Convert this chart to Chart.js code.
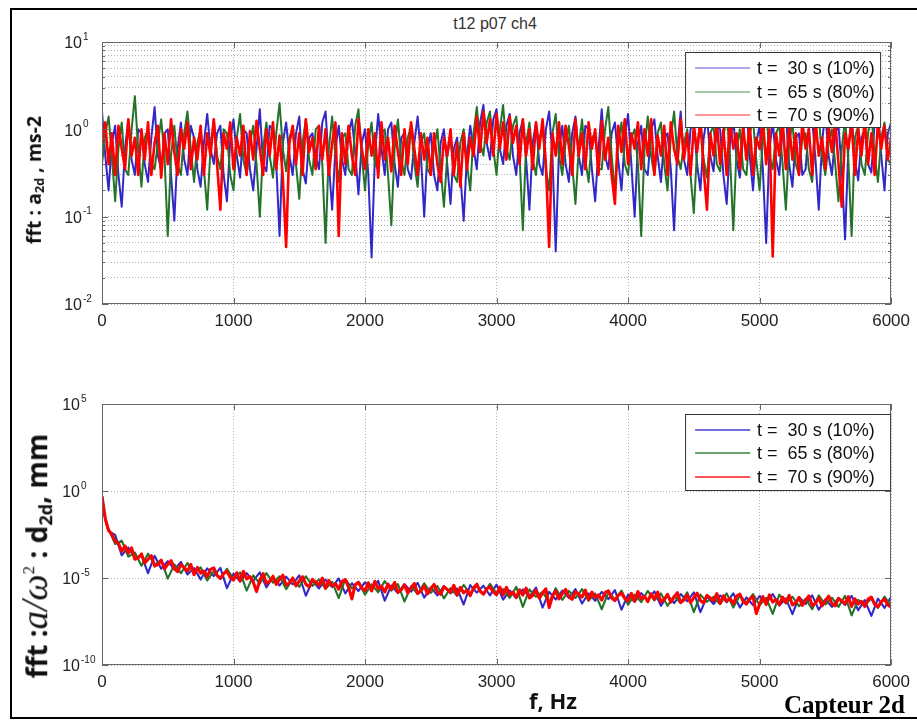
<!DOCTYPE html>
<html>
<head>
<meta charset="utf-8">
<script src="https://cdn.jsdelivr.net/npm/chart.js@4.4.1/dist/chart.umd.min.js"></script>
<style>
  html, body { margin:0; padding:0; background:#fff; }
  body { width:917px; height:720px; position:relative; overflow:hidden; font-family:'Liberation Sans', Arial, sans-serif; }
  #frame { position:absolute; left:10px; top:8px; width:920px; height:711px; box-sizing:border-box; border:2px solid #000; }
  canvas { position:absolute; left:0; display:block; }
  #cTop { top:0; }
  #cBot { top:360px; }
  #title { position:absolute; left:495px; top:24px; transform:translate(-50%,-50%); font-size:16px; color:#333; white-space:nowrap; }
  .ylab { position:absolute; white-space:nowrap; transform:translate(-50%,-50%) rotate(-90deg); font-family:'Open Sans', sans-serif; font-weight:bold; color:#111; }
  .ylab sub { font-size:65%; vertical-align:-0.25em; }
  #ylabTop { left:34px; top:180px; font-size:19.5px; }
  #ylabBot { left:35px; top:556px; font-size:28px; }
  #ylabBot .m { font-family:'Liberation Serif', serif; font-style:italic; font-weight:normal; font-size:37px; }
  #ylabBot sup { font-size:60%; vertical-align:0.75em; font-family:'Liberation Serif', serif; font-weight:normal; }
  #xlab { position:absolute; left:553px; top:700px; transform:translate(-50%,-50%); font-family:'Open Sans', sans-serif; font-weight:bold; font-size:22px; color:#111; white-space:nowrap; }
  #capteur { position:absolute; right:12px; top:692px; font-family:'Liberation Serif', serif; font-weight:bold; font-size:25px; line-height:25px; color:#000; white-space:nowrap; }
</style>
</head>
<body>
<div id="frame"></div>
<div id="title">t12 p07 ch4</div>
<canvas id="cTop" width="917" height="345"></canvas>
<canvas id="cBot" width="917" height="345"></canvas>
<div class="ylab" id="ylabTop">fft : a<sub>2d</sub> , ms-2</div>
<div class="ylab" id="ylabBot">fft :<span class="m">a/ω</span><sup>2</sup> : d<sub>2d</sub>, mm</div>
<div id="xlab">f, Hz</div>
<div id="capteur">Capteur 2d</div>
<script>
// ---- data ----
const seriesLabels = ['t =  30 s (10%)', 't =  65 s (80%)', 't =  70 s (90%)'];

// frequency bins, Hz (25 Hz step)
const freqFine = [0,25,50,75,100,125,150,175,200,225,250,275,300,325,350,375,400,425,450,475,
  500,525,550,575,600,625,650,675,700,725,750,775,800,825,850,875,900,925,950,975,
  1000,1025,1050,1075,1100,1125,1150,1175,1200,1225,1250,1275,1300,1325,1350,1375,1400,1425,1450,1475,
  1500,1525,1550,1575,1600,1625,1650,1675,1700,1725,1750,1775,1800,1825,1850,1875,1900,1925,1950,1975,
  2000,2025,2050,2075,2100,2125,2150,2175,2200,2225,2250,2275,2300,2325,2350,2375,2400,2425,2450,2475,
  2500,2525,2550,2575,2600,2625,2650,2675,2700,2725,2750,2775,2800,2825,2850,2875,2900,2925,2950,2975,
  3000,3025,3050,3075,3100,3125,3150,3175,3200,3225,3250,3275,3300,3325,3350,3375,3400,3425,3450,3475,
  3500,3525,3550,3575,3600,3625,3650,3675,3700,3725,3750,3775,3800,3825,3850,3875,3900,3925,3950,3975,
  4000,4025,4050,4075,4100,4125,4150,4175,4200,4225,4250,4275,4300,4325,4350,4375,4400,4425,4450,4475,
  4500,4525,4550,4575,4600,4625,4650,4675,4700,4725,4750,4775,4800,4825,4850,4875,4900,4925,4950,4975,
  5000,5025,5050,5075,5100,5125,5150,5175,5200,5225,5250,5275,5300,5325,5350,5375,5400,5425,5450,5475,
  5500,5525,5550,5575,5600,5625,5650,5675,5700,5725,5750,5775,5800,5825,5850,5875,5900,5925,5950,5975,6000];

// acceleration spectrum a2d, m/s2 (top plot)
const accT30 = [1.6,0.5,0.2,0.7,1.1,0.3,0.13,0.6,1.3,0.45,
  0.3,1.0,0.9,0.4,0.25,0.8,1.8,0.5,0.35,0.9,
  1.0,0.3,0.09,0.6,1.2,0.45,0.3,1.1,0.8,0.35,
  0.22,0.7,1.5,0.6,0.4,0.9,1.1,0.3,0.15,0.75,
  1.3,0.5,0.28,1.0,0.9,0.35,0.2,0.6,1.7,0.4,
  0.33,1.1,1.0,0.4,0.06,0.7,1.2,0.5,0.3,0.9,
  1.4,0.35,0.24,0.8,0.9,0.5,0.35,1.2,1.6,0.4,
  0.12,0.6,1.1,0.45,0.3,0.9,1.3,0.55,0.18,0.7,
  1.0,0.3,0.034,0.5,1.5,0.6,0.3,1.0,1.2,0.4,
  0.22,0.8,0.9,0.35,0.27,0.7,1.4,0.5,0.1,0.6,
  0.9,0.3,0.2,0.7,1.0,0.4,0.14,0.6,0.8,0.3,
  0.09,0.5,1.1,0.6,0.35,1.2,1.9,0.7,0.45,1.3,
  1.7,0.6,0.4,1.1,1.5,0.5,0.3,0.9,1.3,0.45,
  0.12,0.7,1.2,0.4,0.3,1.0,1.6,0.5,0.04,0.6,
  1.1,0.4,0.25,0.9,1.4,0.5,0.3,1.1,1.0,0.35,
  0.15,0.6,1.7,0.5,0.35,0.9,1.2,0.45,0.2,0.8,
  1.5,0.4,0.1,0.7,1.1,0.35,0.3,1.0,1.3,0.5,
  0.25,0.8,0.9,0.35,0.07,0.6,1.6,0.45,0.3,1.0,
  1.2,0.4,0.2,0.8,1.4,0.5,0.33,1.1,1.0,0.3,
  0.14,0.7,1.3,0.45,0.28,0.9,1.8,0.5,0.2,0.7,
  1.1,0.35,0.05,0.6,1.2,0.45,0.3,1.0,1.5,0.4,
  0.22,0.8,0.9,0.3,0.35,1.1,1.3,0.45,0.12,0.7,
  1.6,0.5,0.3,0.9,1.1,0.35,0.055,0.6,1.4,0.45,
  0.26,0.8,1.0,0.4,0.32,1.2,1.7,0.5,0.2,0.9,1.2];
const accT65 = [0.4,0.9,1.4,0.5,0.15,0.6,1.2,0.35,0.3,1.0,
  2.4,0.6,0.22,0.8,1.0,0.4,0.35,0.7,1.3,0.5,
  0.06,0.5,1.1,0.4,0.3,0.9,1.6,0.6,0.25,0.7,
  1.0,0.35,0.12,0.6,1.3,0.5,0.35,1.0,0.9,0.3,
  0.2,0.8,1.5,0.45,0.3,0.7,1.1,0.4,0.1,0.6,
  1.2,0.5,0.28,0.9,2.0,0.6,0.33,0.8,1.0,0.4,
  0.16,0.7,1.3,0.45,0.3,1.0,1.1,0.4,0.05,0.6,
  1.4,0.5,0.25,0.8,0.9,0.35,0.3,1.1,1.7,0.5,
  0.2,0.7,1.2,0.4,0.35,0.9,1.0,0.3,0.08,0.6,
  1.3,0.45,0.3,0.8,1.1,0.4,0.22,0.7,0.9,0.35,
  0.3,0.6,1.0,0.35,0.13,0.5,0.8,0.3,0.25,0.7,
  1.0,0.4,0.2,0.9,1.8,0.7,0.5,1.2,1.6,0.6,
  0.3,1.0,1.9,0.6,0.45,1.1,1.4,0.5,0.07,0.7,
  1.2,0.45,0.3,0.8,1.0,0.35,0.2,0.9,1.5,0.5,
  0.3,0.7,1.1,0.4,0.14,0.6,1.3,0.45,0.25,0.8,
  0.9,0.35,0.35,1.0,1.8,0.5,0.2,0.7,1.2,0.4,
  0.3,0.8,1.0,0.4,0.06,0.6,1.4,0.5,0.3,0.9,
  1.2,0.4,0.2,0.8,1.6,0.5,0.35,0.7,1.0,0.3,
  0.11,0.6,1.3,0.45,0.28,0.9,1.1,0.4,0.33,0.8,
  1.5,0.5,0.07,0.6,1.0,0.35,0.3,0.9,1.3,0.45,
  0.2,0.8,1.7,0.5,0.35,0.9,1.1,0.4,0.12,0.7,
  1.2,0.4,0.3,0.8,0.9,0.35,0.25,1.0,1.4,0.5,
  0.3,0.7,1.0,0.4,0.15,0.6,1.3,0.45,0.06,0.8,
  1.1,0.4,0.3,0.9,1.5,0.5,0.25,0.8,1.2,0.45,0.4];
const accT70 = [0.7,1.2,0.4,0.9,0.3,1.1,0.6,0.35,1.3,0.5,
  0.8,0.3,1.0,0.45,1.2,0.3,0.7,1.1,0.28,0.9,
  0.4,1.3,0.55,0.3,1.0,0.6,1.2,0.35,0.8,0.45,
  1.1,0.3,0.9,0.5,1.3,0.4,0.12,0.9,0.6,1.2,
  0.35,0.8,0.5,1.1,0.3,0.95,0.45,1.25,0.6,0.3,
  1.0,0.5,1.2,0.35,0.85,0.28,0.045,0.7,1.1,0.4,
  0.9,0.3,1.3,0.55,0.8,0.35,1.1,0.45,1.0,0.3,
  0.7,1.2,0.06,0.9,0.4,1.1,0.5,0.3,1.3,0.6,
  0.35,1.0,0.5,0.9,0.28,1.2,0.45,0.8,0.33,1.1,
  0.55,0.3,1.0,0.4,1.2,0.6,0.3,0.9,0.45,0.8,
  0.3,0.9,0.4,0.25,0.8,0.5,1.0,0.3,0.7,0.22,
  0.9,0.35,0.8,0.5,1.4,0.55,1.6,0.7,1.3,0.5,
  1.5,0.6,1.2,0.45,1.4,0.7,1.1,0.4,1.3,0.5,
  1.0,0.35,1.2,0.6,1.3,0.4,0.045,0.9,0.5,1.2,
  0.4,1.1,0.65,0.3,1.3,0.5,0.9,0.35,1.2,0.6,
  1.0,0.3,1.25,0.45,0.8,0.3,0.14,1.1,0.55,1.3,
  0.4,0.9,0.6,1.2,0.35,1.0,0.5,1.3,0.3,0.85,
  0.5,1.1,0.3,1.2,0.6,0.4,1.3,0.45,0.9,0.3,
  1.1,0.55,1.25,0.35,0.12,0.9,0.5,1.2,0.4,1.0,
  0.3,1.3,0.6,0.9,0.35,1.1,0.45,1.2,0.3,0.8,
  0.6,1.25,0.4,1.0,0.035,0.9,0.5,1.3,0.35,1.1,
  0.45,0.9,0.3,1.2,0.6,1.0,0.3,1.3,0.5,0.8,
  0.35,1.1,0.55,1.25,0.4,0.13,0.9,0.6,1.2,0.3,
  1.0,0.5,1.3,0.4,0.9,0.3,1.2,0.6,1.1,0.45,0.8];

// frequency bins, Hz (bottom plot, t = 30 s and t = 65 s, finer near 0)
const freqBot = [0,10,20,30,40,50,100,150,200,250,300,350,400,450,500,550,600,650,700,750,800,850,900,950,
  1000,1050,1100,1150,1200,1250,1300,1350,1400,1450,1500,1550,1600,1650,1700,1750,1800,1850,1900,1950,
  2000,2050,2100,2150,2200,2250,2300,2350,2400,2450,2500,2550,2600,2650,2700,2750,2800,2850,2900,2950,
  3000,3050,3100,3150,3200,3250,3300,3350,3400,3450,3500,3550,3600,3650,3700,3750,3800,3850,3900,3950,
  4000,4050,4100,4150,4200,4250,4300,4350,4400,4450,4500,4550,4600,4650,4700,4750,4800,4850,4900,4950,
  5000,5050,5100,5150,5200,5250,5300,5350,5400,5450,5500,5550,5600,5650,5700,5750,5800,5850,5900,5950,6000];

// displacement spectrum d2d = a/w2, mm (bottom plot)
const dispT30 = [0.45,0.13,0.035,0.016,0.008,
  5.0e-3,3.0e-3,2.0e-4,5.7e-4,1.4e-4,2.0e-4,1.9e-5,1.9e-4,3.4e-5,9.2e-5,
  3.0e-5,8.4e-5,1.6e-5,3.7e-5,8.1e-6,3.6e-5,1.3e-5,3.8e-5,2.6e-6,1.8e-5,
  6.2e-6,1.9e-5,6.9e-6,2.1e-5,2.9e-6,1.1e-5,3.7e-6,1.2e-5,4.3e-6,1.4e-5,
  9.5e-7,7.1e-6,2.5e-6,8.0e-6,3.0e-6,9.4e-6,1.3e-6,5.0e-6,1.8e-6,5.7e-6,
  2.2e-6,6.8e-6,5.0e-7,3.7e-6,1.35e-6,4.4e-6,1.65e-6,5.2e-6,7.5e-7,2.9e-6,
  1.0e-6,3.4e-6,1.3e-6,2.5e-6,3.0e-7,3.9e-6,1.44e-6,3.6e-6,1.0e-6,4.2e-6,
  5.7e-7,1.9e-6,6.9e-7,2.2e-6,8.6e-7,2.8e-6,2.0e-7,1.6e-6,5.8e-7,1.9e-6,
  7.2e-7,2.3e-6,3.4e-7,1.3e-6,4.9e-7,1.6e-6,6.1e-7,2.0e-6,1.5e-7,1.1e-6,
  4.2e-7,1.35e-6,5.3e-7,1.7e-6,2.5e-7,9.8e-7,3.6e-7,1.2e-6,4.6e-7,1.5e-6,
  1.1e-7,8.6e-7,3.2e-7,1.0e-6,4.0e-7,1.3e-6,2.0e-7,7.6e-7,2.8e-7,9.2e-7,
  3.6e-7,1.2e-6,2.6e-7,6.7e-7,8.3e-8,8.1e-7,3.2e-7,1.0e-6,1.5e-7,6.0e-7,
  2.2e-7,7.2e-7,2.8e-7,9.4e-7,1.4e-7,5.4e-7,6.6e-8,6.5e-7,1.9e-7,8.4e-7];
const dispT65 = [0.55,0.15,0.04,0.018,0.010,
  6.5e-3,9.0e-4,1.4e-3,1.7e-4,2.9e-4,5.1e-5,2.5e-4,5.7e-5,1.1e-4,9.2e-6,
  6.0e-5,1.9e-5,7.2e-5,1.9e-5,4.1e-5,7.2e-6,2.5e-5,8.6e-6,3.4e-5,9.0e-6,
  2.1e-5,1.9e-6,1.4e-5,4.8e-6,1.9e-5,5.4e-6,1.25e-5,2.3e-6,8.6e-6,3.1e-6,
  1.26e-5,3.5e-6,8.4e-6,2.4e-6,6.0e-6,7.1e-7,8.8e-6,2.5e-6,6.0e-6,1.1e-6,
  4.3e-6,1.5e-6,6.6e-6,1.9e-6,4.5e-6,4.4e-7,3.3e-6,1.2e-6,5.0e-6,1.4e-6,
  3.5e-6,6.8e-7,2.6e-6,9.5e-7,4.0e-6,1.2e-6,3.6e-6,1.1e-6,4.6e-6,1.3e-6,
  2.3e-6,7.1e-7,3.1e-6,2.2e-7,2.2e-6,8.4e-7,1.6e-6,3.9e-7,2.6e-6,5.6e-7,
  1.8e-6,7.0e-7,2.3e-6,5.0e-7,1.3e-6,1.6e-7,1.5e-6,6.0e-7,1.9e-6,2.9e-7,
  1.1e-6,4.1e-7,1.8e-6,5.2e-7,1.3e-6,2.5e-7,9.6e-7,3.6e-7,1.5e-6,1.1e-7,
  1.1e-6,4.3e-7,8.4e-7,3.1e-7,1.3e-6,2.0e-7,9.8e-7,3.8e-7,1.2e-6,2.7e-7,
  7.2e-7,8.7e-8,1.1e-6,3.4e-7,8.3e-7,2.4e-7,6.4e-7,1.6e-7,1.0e-6,3.0e-7,
  7.4e-7,2.2e-7,9.4e-7,7.1e-8,5.5e-7,2.7e-7,6.6e-7,1.9e-7,8.6e-7,2.5e-7];
const dispT70 = [0.5,0.026,5.5e-3,3.2e-3,1.3e-3,9.7e-4,3.4e-4,6.9e-4,2.7e-4,5.4e-4,1.2e-4,
  1.4e-4,2.4e-4,7.2e-5,1.2e-4,1.9e-4,4.8e-5,5.9e-5,1.05e-4,3.4e-5,6.1e-5,
  9.9e-5,3.5e-5,2.3e-5,5.9e-5,3.9e-5,2.5e-5,6.0e-5,1.55e-5,4.0e-5,1.9e-5,
  2.5e-5,1.2e-5,3.1e-5,3.8e-5,1.4e-5,9.4e-6,1.8e-5,2.4e-5,1.1e-5,7.6e-6,
  2.0e-5,6.9e-6,2.4e-5,8.8e-6,1.2e-5,5.8e-6,1.65e-6,7.4e-6,1.8e-5,4.9e-6,
  6.5e-6,1.26e-5,4.3e-6,8.3e-6,1.45e-5,3.9e-6,5.2e-6,1.0e-5,3.5e-6,6.8e-6,
  1.18e-5,4.4e-6,3.1e-6,8.3e-6,5.8e-6,3.9e-6,9.8e-6,2.6e-6,7.2e-6,3.5e-6,
  4.8e-6,2.3e-6,6.4e-6,8.0e-6,3.0e-6,6.3e-7,4.1e-6,5.6e-6,2.7e-6,1.9e-6,
  5.2e-6,1.8e-6,6.4e-6,2.4e-6,3.4e-6,1.6e-6,4.5e-6,2.2e-6,5.5e-6,1.5e-6,
  2.1e-6,4.0e-6,1.4e-6,2.75e-6,4.8e-6,1.3e-6,1.8e-6,3.5e-6,1.24e-6,2.4e-6,
  4.3e-6,1.6e-6,1.15e-6,3.2e-6,2.2e-6,1.5e-6,3.8e-6,1.04e-6,2.9e-6,1.4e-6,
  2.0e-6,9.7e-7,2.7e-6,4.4e-6,1.7e-6,1.2e-6,2.3e-6,3.2e-6,1.55e-6,1.1e-6,
  3.0e-6,1.05e-6,2.9e-6,1.1e-6,1.56e-6,7.7e-7,2.1e-6,1.04e-6,2.6e-6,7.2e-7,
  9.9e-7,1.95e-6,6.9e-7,1.35e-6,2.4e-6,2.0e-7,9.0e-7,1.8e-6,6.3e-7,1.24e-6,
  2.2e-6,8.4e-7,6.0e-7,1.6e-6,1.16e-6,8.0e-7,2.0e-6,5.6e-7,1.54e-6,7.6e-7,
  1.07e-6,5.3e-7,1.46e-6,1.85e-6,7.1e-7,5.0e-7,9.9e-7,1.36e-6,6.7e-7,4.8e-7,
  1.3e-6,4.7e-7,1.66e-6,6.3e-7,8.9e-7,4.4e-7,1.22e-6,6.0e-7,1.53e-6,4.2e-7,
  5.8e-7,1.15e-6,4.1e-7,8.0e-7,1.42e-6,3.9e-7,5.5e-7,1.08e-6,3.8e-7,7.5e-7,
  1.33e-6,5.1e-7,3.7e-7,1.0e-6,7.1e-7,4.9e-7,1.26e-6,3.5e-7,9.5e-7,4.7e-7,
  6.7e-7,3.3e-7,9.1e-7,1.17e-6,4.5e-7,3.2e-7,6.3e-7,8.7e-7,9.2e-8,3.1e-7,
  8.4e-7,3.0e-7,1.06e-6,4.1e-7,5.8e-7,2.9e-7,8.0e-7,3.9e-7,9.9e-7,2.8e-7,
  3.8e-7,7.6e-7,2.7e-7,5.3e-7,9.4e-7,2.6e-7,3.6e-7,7.1e-7,2.5e-7,5.0e-7,
  9.0e-7,3.4e-7,2.5e-7,6.7e-7,4.8e-7,3.3e-7,8.5e-7,2.3e-7,6.4e-7,3.2e-7,
  4.5e-7,2.3e-7,6.2e-7,7.9e-7,3.1e-7,2.2e-7,4.3e-7,6.0e-7,2.9e-7,2.1e-7];

// axis ticks
const xTicks = [0,1000,2000,3000,4000,5000,6000];
const yTicksTop = [0.01,0.02,0.03,0.04,0.05,0.06,0.07,0.08,0.09,0.1,0.2,0.3,0.4,0.5,0.6,0.7,0.8,0.9,
  1,2,3,4,5,6,7,8,9,10];
const yTicksBot = [1e-10,1e-5,1,1e5];

const colors = ['rgb(50,40,200)', 'rgb(35,115,40)', 'rgb(255,0,0)'];

function pts(xs, ys) { return xs.map((f, i) => ({ x: f, y: ys[i] })); }

function datasets(xsList, lists, widths) {
  return lists.map((ys, k) => ({
    label: seriesLabels[k], data: pts(xsList[k], ys),
    borderColor: colors[k], borderWidth: widths[k],
    order: 2 - k,                       // last series (red) painted on top
    pointRadius: 0, tension: 0, borderJoinStyle: 'round', fill: false
  }));
}

const isDecade = v => Math.abs(Math.log10(v) - Math.round(Math.log10(v))) < 1e-6;

// box, inward ticks, MATLAB-like decade labels, legend
function decor(opts) {
  return {
    id: 'decor_' + opts.name,
    afterDatasetsDraw(chart) {
      const { ctx, chartArea: a, scales: { x, y } } = chart;
      ctx.save();
      ctx.strokeStyle = '#666';
      ctx.lineWidth = 1;
      ctx.beginPath();
      xTicks.forEach(v => {
        const px = Math.round(x.getPixelForValue(v)) + 0.5;
        ctx.moveTo(px, a.bottom); ctx.lineTo(px, a.bottom - 6);
        ctx.moveTo(px, a.top); ctx.lineTo(px, a.top + 6);
      });
      y.ticks.forEach(t => {
        const py = Math.round(y.getPixelForValue(t.value)) + 0.5;
        const len = isDecade(t.value) ? 6 : 3;
        ctx.moveTo(a.left, py); ctx.lineTo(a.left + len, py);
        ctx.moveTo(a.right, py); ctx.lineTo(a.right - len, py);
      });
      ctx.stroke();
      ctx.strokeRect(Math.round(a.left) + 0.5, Math.round(a.top) + 0.5, Math.round(a.width) - 1, Math.round(a.height) - 1);

      // legend
      const L = opts.legend;
      const bx = a.right - L.fromRight - L.w, by = a.top + L.top;
      ctx.fillStyle = '#fff';
      ctx.fillRect(bx, by, L.w, L.h);
      ctx.strokeStyle = '#333';
      ctx.strokeRect(bx + 0.5, by + 0.5, L.w - 1, L.h - 1);
      ctx.font = '18px "Liberation Sans", Arial, sans-serif';
      ctx.textBaseline = 'middle';
      ctx.textAlign = 'left';
      chart.data.datasets.forEach((ds, k) => {
        const ry = by + L.rows[k];
        ctx.strokeStyle = ds.borderColor;
        ctx.globalAlpha = L.alpha;
        ctx.lineWidth = 1.5;
        ctx.beginPath();
        ctx.moveTo(bx + 10, ry); ctx.lineTo(bx + 65, ry);
        ctx.stroke();
        ctx.globalAlpha = 1;
        ctx.fillStyle = '#111';
        ctx.fillText(ds.label, bx + 72, ry + 1);
      });
      ctx.restore();
    },
    afterDraw(chart) {
      const { ctx, scales: { y } } = chart;
      ctx.save();
      ctx.fillStyle = '#222';
      ctx.textBaseline = 'middle';
      opts.decades.forEach(v => {
        const py = y.getPixelForValue(v);
        const e = String(Math.round(Math.log10(v)));
        ctx.font = '16px "Liberation Sans", Arial, sans-serif';
        ctx.textAlign = 'right';
        ctx.fillText('10', opts.labelRight, py + 2);
        ctx.font = '10px "Liberation Sans", Arial, sans-serif';
        ctx.textAlign = 'left';
        ctx.fillText(e, opts.labelRight + 1, py - 5);
      });
      ctx.restore();
    }
  };
}

function makeChart(id, xsList, lists, widths, yMin, yMax, yTicks, xAxisH, padTop, plug) {
  return new Chart(document.getElementById(id).getContext('2d'), {
    type: 'line',
    data: { datasets: datasets(xsList, lists, widths) },
    options: {
      responsive: false, animation: false, events: [],
      layout: { padding: { left: 0, top: padTop, right: 21, bottom: 0 } },
      plugins: { legend: { display: false }, tooltip: { enabled: false } },
      scales: {
        x: {
          type: 'linear', min: 0, max: 6000,
          afterBuildTicks: s => { s.ticks = xTicks.map(v => ({ value: v })); },
          afterFit: s => { s.height = xAxisH; },
          ticks: { color: '#222', font: { family: 'Liberation Sans', size: 17 }, padding: 7, maxRotation: 0, autoSkip: false,
                   callback: v => String(v) },
          grid: { color: 'rgba(0,0,0,0.3)', drawTicks: false },
          border: { display: false, dash: [1, 2] }
        },
        y: {
          type: 'logarithmic', min: yMin, max: yMax,
          afterBuildTicks: s => { s.ticks = yTicks.map(v => ({ value: v })); },
          afterFit: s => { s.width = 102; },
          ticks: { display: false },
          grid: { color: 'rgba(0,0,0,0.3)', drawTicks: false },
          border: { display: false, dash: [1, 2] }
        }
      }
    },
    plugins: [plug]
  });
}

makeChart('cTop', [freqFine, freqFine, freqFine], [accT30, accT65, accT70], [2.0, 2.0, 2.6],
  0.01, 10, yTicksTop, 41, 42,
  decor({ name: 'top', labelRight: 82, decades: [0.01, 0.1, 1, 10],
          legend: { fromRight: 10, top: 10, w: 196, h: 76, rows: [16, 40, 63], alpha: 0.55 } }));

makeChart('cBot', [freqBot, freqBot, freqFine], [dispT30, dispT65, dispT70], [2.1, 2.1, 3.1],
  1e-10, 1e5, yTicksBot, 40, 44,
  decor({ name: 'bot', labelRight: 80, decades: yTicksBot,
          legend: { fromRight: 0, top: 10, w: 206, h: 77, rows: [16, 39, 63], alpha: 0.9 } }));
</script>
</body>
</html>
